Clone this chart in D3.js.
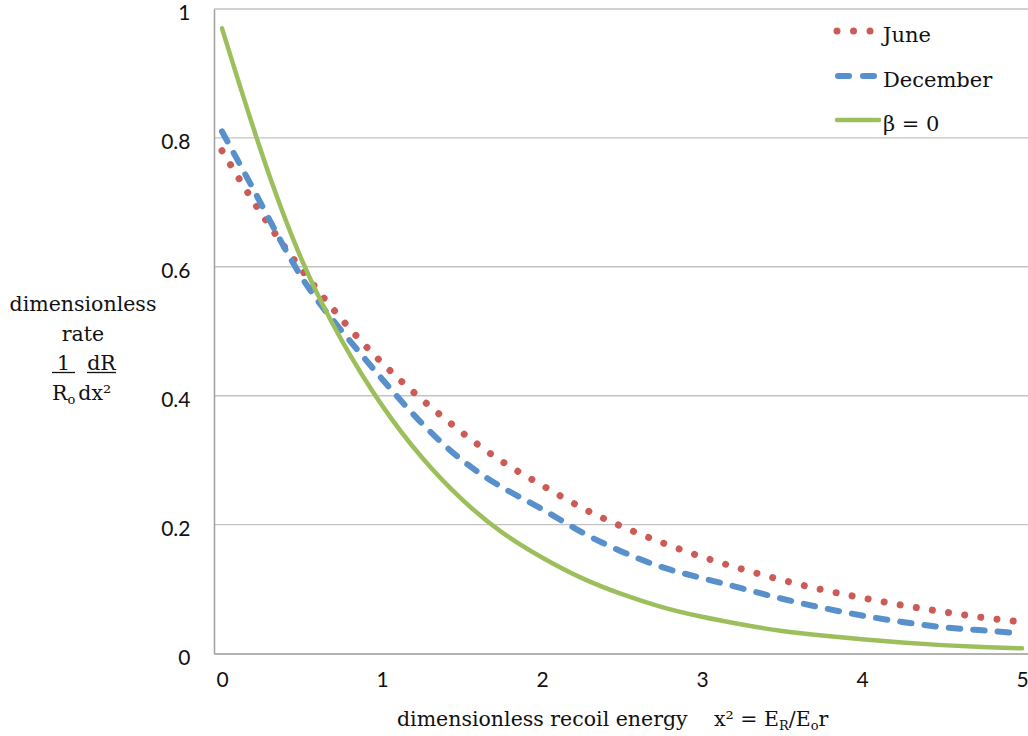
<!DOCTYPE html>
<html>
<head>
<meta charset="utf-8">
<script src="https://cdn.jsdelivr.net/npm/d3@7"></script>
<style>
  html, body { margin: 0; padding: 0; background: #fff; }
  svg { display: block; }
</style>
</head>
<body>
<svg id="chart" width="1028" height="736"></svg>
<script>
// ---- data ----
const xValues = [0, 0.25, 0.5, 0.75, 1, 1.25, 1.5, 1.75, 2, 2.25, 2.5, 2.75, 3, 3.25, 3.5, 3.75, 4, 4.25, 4.5, 4.75, 5];
const juneValues = [0.78, 0.681, 0.595, 0.518, 0.451, 0.394, 0.343, 0.298, 0.261, 0.226, 0.197, 0.172, 0.150, 0.131, 0.114, 0.099, 0.0865, 0.075, 0.065, 0.056, 0.049];
const decemberValues = [0.81, 0.695, 0.583, 0.50, 0.426, 0.357, 0.30, 0.258, 0.224, 0.188, 0.158, 0.134, 0.117, 0.101, 0.085, 0.071, 0.059, 0.049, 0.041, 0.036, 0.031];
const beta0Values = [0.97, 0.775, 0.61, 0.485, 0.385, 0.304, 0.239, 0.188, 0.149, 0.117, 0.092, 0.072, 0.057, 0.045, 0.035, 0.028, 0.022, 0.017, 0.013, 0.010, 0.008];
const seriesNames = ["June", "December", "β = 0"];
const yTickValues = [0, 0.2, 0.4, 0.6, 0.8, 1];
const yTickLabels = ["0", "0.2", "0.4", "0.6", "0.8", "1"];
const xTickValues = [0, 1, 2, 3, 4, 5];
const xTickLabels = ["0", "1", "2", "3", "4", "5"];

// ---- layout ----
const svg = d3.select("#chart");
const plotLeft = 214, plotRight = 1030, plotTop = 9, plotBottom = 653.5;
const x = d3.scaleLinear().domain([-0.05, 5.05]).range([plotLeft, plotRight]);
const y = d3.scaleLinear().domain([0, 1]).range([plotBottom, plotTop]);

const serif = "'DejaVu Serif', serif";
const sans = "Lato, 'Open Sans', sans-serif";

// gridlines
svg.append("g")
  .selectAll("line")
  .data(yTickValues.filter(v => v > 0))
  .join("line")
  .attr("x1", plotLeft).attr("x2", plotRight)
  .attr("y1", d => y(d)).attr("y2", d => y(d))
  .attr("stroke", "#c3c3c3").attr("stroke-width", 1.4);

// axes
const yAxis = d3.axisLeft(y).tickValues(yTickValues)
  .tickFormat((d, i) => yTickLabels[i]).tickSize(0).tickPadding(23.5);
const gy = svg.append("g").attr("transform", `translate(${plotLeft},0)`).call(yAxis);
gy.select(".domain").attr("stroke", "#a0a0a0").attr("stroke-width", 1.5);
gy.selectAll("text").attr("font-family", sans).attr("font-size", 21).attr("fill", "#111")
  .attr("dy", "0.5em");

const xAxis = d3.axisBottom(x).tickValues(xTickValues)
  .tickFormat((d, i) => xTickLabels[i]).tickSize(0).tickPadding(19);
const gx = svg.append("g").attr("transform", `translate(0,${plotBottom})`).call(xAxis);
gx.select(".domain").attr("stroke", "#999").attr("stroke-width", 1.6);
gx.selectAll("text").attr("font-family", sans).attr("font-size", 21).attr("fill", "#111");

// series
const lineGen = d3.line().x(d => x(d[0])).y(d => y(d[1])).curve(d3.curveNatural);
const series = [
  { name: seriesNames[0], values: juneValues, color: "#cd5b55", width: 7, dash: "0.01,16.3" },
  { name: seriesNames[1], values: decemberValues, color: "#5890cc", width: 6, dash: "11.5,13" },
  { name: seriesNames[2], values: beta0Values, color: "#9cbf5c", width: 4.5, dash: null }
];
series.forEach(s => {
  svg.append("path")
    .datum(xValues.map((xv, i) => [xv, s.values[i]]))
    .attr("d", lineGen)
    .attr("fill", "none")
    .attr("stroke", s.color)
    .attr("stroke-width", s.width)
    .attr("stroke-linecap", "round")
    .attr("stroke-dasharray", s.dash);
});

// legend
const lg = svg.append("g");
const legY = [31, 76, 120];
const legBase = [41.5, 86.5, 130.5];
series.forEach((s, i) => {
  if (i === 0) {
    lg.append("line").attr("x1", 837).attr("x2", 871).attr("y1", legY[i]).attr("y2", legY[i])
      .attr("stroke", s.color).attr("stroke-width", s.width).attr("stroke-linecap", "round")
      .attr("stroke-dasharray", "0.01,16.5");
  } else if (i === 1) {
    lg.append("line").attr("x1", 838).attr("x2", 876).attr("y1", legY[i]).attr("y2", legY[i])
      .attr("stroke", s.color).attr("stroke-width", s.width).attr("stroke-linecap", "round")
      .attr("stroke-dasharray", "11,14");
  } else {
    lg.append("line").attr("x1", 837).attr("x2", 879).attr("y1", legY[i]).attr("y2", legY[i])
      .attr("stroke", s.color).attr("stroke-width", s.width).attr("stroke-linecap", "round");
  }
  lg.append("text").attr("x", 883).attr("y", legBase[i])
    .attr("font-family", serif).attr("font-size", 21).attr("fill", "#111")
    .text(s.name);
});

// x-axis title
const xt = svg.append("g").attr("font-family", serif).attr("font-size", 20.5).attr("fill", "#111");
xt.append("text").attr("x", 397).attr("y", 726).text("dimensionless recoil energy");
const xt2 = xt.append("text").attr("x", 714).attr("y", 726);
xt2.append("tspan").text("x² = E");
xt2.append("tspan").attr("font-size", 13).attr("dy", 4).text("R");
xt2.append("tspan").attr("dy", -4).text("/E");
xt2.append("tspan").attr("font-size", 13).attr("dy", 4).text("o");
xt2.append("tspan").attr("dy", -4).text("r");

// y-axis title
const yt = svg.append("g").attr("font-family", serif).attr("font-size", 20.5).attr("fill", "#111");
yt.append("text").attr("x", 83).attr("y", 310.5).attr("text-anchor", "middle").text("dimensionless");
yt.append("text").attr("x", 83).attr("y", 340.5).attr("text-anchor", "middle").text("rate");
yt.append("text").attr("x", 63.5).attr("y", 370).attr("text-anchor", "middle").text("1");
yt.append("text").attr("x", 101.5).attr("y", 370).attr("text-anchor", "middle").text("dR");
yt.append("line").attr("x1", 52).attr("x2", 75).attr("y1", 372.5).attr("y2", 372.5).attr("stroke", "#111").attr("stroke-width", 1.3);
yt.append("line").attr("x1", 87).attr("x2", 116).attr("y1", 372.5).attr("y2", 372.5).attr("stroke", "#111").attr("stroke-width", 1.3);
const yt4 = yt.append("text").attr("x", 52).attr("y", 400);
yt4.append("tspan").text("R");
yt4.append("tspan").attr("font-size", 13).attr("dy", 4).text("o");
yt4.append("tspan").attr("dy", -4).attr("dx", 3).text("dx²");
</script>
</body>
</html>
